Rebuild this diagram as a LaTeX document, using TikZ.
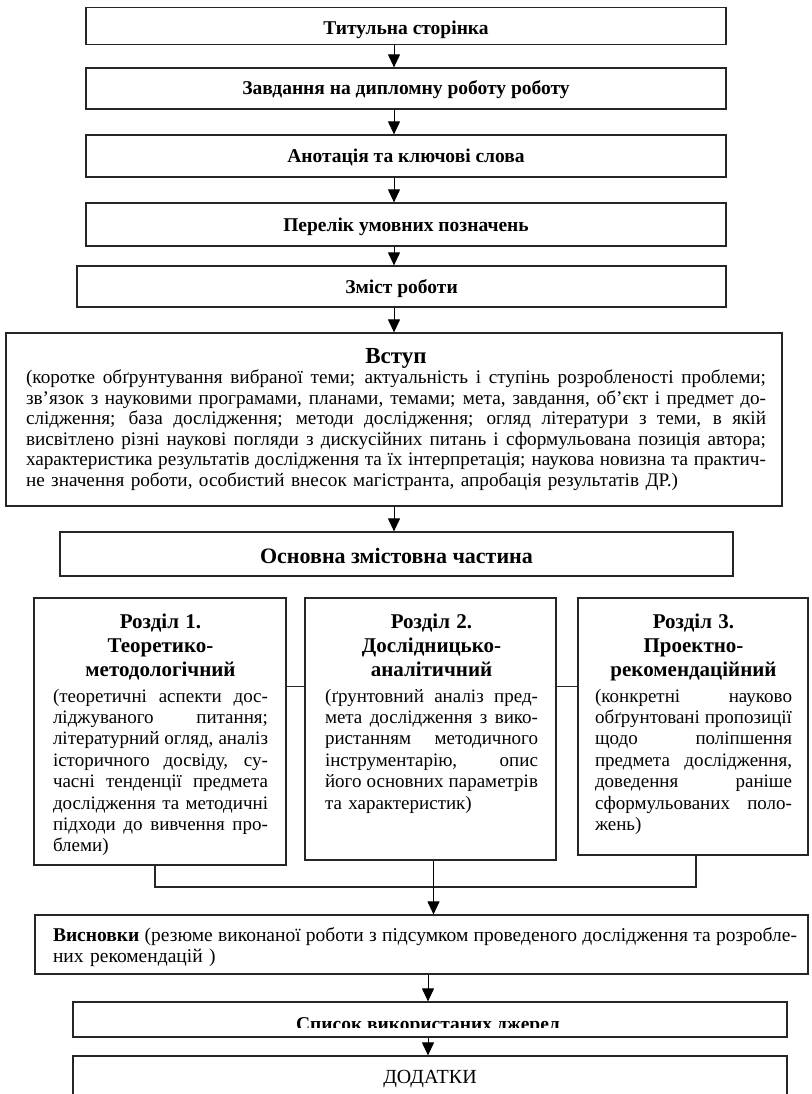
\documentclass[tikz,border=0pt]{standalone}
\usepackage{fontspec}
\setmainfont{Liberation Serif}
\usepackage{tikz}
\usetikzlibrary{positioning,calc,arrows.meta}
\setlength{\parindent}{0pt}
\setlength{\parskip}{0pt}

\newcommand{\jl}[1]{\makebox[\hsize][s]{\spaceskip=0pt\xspaceskip=0pt\relax #1}}
\newcommand{\lastl}[1]{\makebox[\hsize][l]{#1}}

\tikzset{
    box/.style={draw=black!85, line width=1.2pt, inner sep=0pt},
    arr/.style={draw=black, line width=1pt, -{Triangle[width=12pt,length=13pt]}},
    conn/.style={draw=black!85, line width=1.2pt},
    head/.style={font=\bfseries\fontsize{19.5}{22}\selectfont, text height=13pt, text depth=0pt},
    body/.style={inner sep=0pt, align=center, font=\fontsize{19}{21.4}\selectfont},
}

\begin{document}
\begin{tikzpicture}[x=1pt,y=-1pt]
    \useasboundingbox (0,0) rectangle (811,1094);
    \coordinate (ax) at (394,0);
    \coordinate (ax2) at (428,0);
    \coordinate (bus) at (0,887);

    % Front matter
    \node[box, head, text height=17pt, minimum width=640pt, minimum height=37pt] (tit) at (406,26) {Титульна сторінка};
    \node[box, head, minimum width=640pt, minimum height=41pt] (zav) at (406,88.5) {Завдання на дипломну роботу роботу};
    \node[box, head, minimum width=640pt, minimum height=42pt] (anot) at (406,156) {Анотація та ключові слова};
    \node[box, head, minimum width=640pt, minimum height=43pt] (per) at (406,224.5) {Перелік умовних позначень};
    \node[box, head, minimum width=649pt, minimum height=41pt] (zmist) at (401.5,286.5) {Зміст роботи};

    % Introduction
    \node[box, minimum width=776pt, minimum height=173pt] (vstup) at (394,419.5) {};
    \node[body, anchor=north, text width=740pt, font=\fontsize{19.2}{20.5}\selectfont] (vstupt) at (396,348) {%
        {\bfseries\fontsize{23}{23}\selectfont Вступ\par}
        \jl{(коротке обґрунтування вибраної теми; актуальність і ступінь розробленості проблеми;}\\
        \jl{зв'язок з науковими програмами, планами, темами; мета, завдання, об’єкт і предмет до-}\\
        \jl{слідження; база дослідження; методи дослідження; огляд літератури з теми, в якій}\\
        \jl{висвітлено різні наукові погляди з дискусійних питань і сформульована позиція автора;}\\
        \jl{характеристика результатів дослідження та їх інтерпретація; наукова новизна та практич-}\\
        \lastl{не значення роботи, особистий внесок магістранта, апробація результатів ДР.)}};

    \node[box, font=\bfseries\fontsize{22}{24}\selectfont, text height=18pt, text depth=0pt, minimum width=673pt, minimum height=44pt] (osn) at (396.5,554) {Основна змістовна частина};

    % Sections
    \node[box, minimum width=252pt, minimum height=267pt] (s1) at (160,731.5) {};
    \node[box, minimum width=251pt, minimum height=262pt] (s2) at (430.5,729) {};
    \node[box, minimum width=230pt, minimum height=257pt] (s3) at (693,726.5) {};

    \node[body, anchor=north, text width=215pt] (s1t) at (160.5,614) {%
        {\bfseries\fontsize{21}{24}\selectfont Розділ 1.\\ Теоретико-\\ методологічний\par}\vspace{4pt}
        \jl{(теоретичні аспекти дос-}\\
        \jl{ліджуваного питання;}\\
        \jl{літературний огляд, аналіз}\\
        \jl{історичного досвіду, су-}\\
        \jl{часні тенденції предмета}\\
        \jl{дослідження та методичні}\\
        \jl{підходи до вивчення про-}\\
        \lastl{блеми)}};
    \node[body, anchor=north, text width=213pt] (s2t) at (431.5,614) {%
        {\bfseries\fontsize{21}{24}\selectfont Розділ 2.\\ Дослідницько-\\ аналітичний\par}\vspace{4pt}
        \jl{(ґрунтовний аналіз пред-}\\
        \jl{мета дослідження з вико-}\\
        \jl{ристанням методичного}\\
        \jl{інструментарію, опис}\\
        \jl{його основних параметрів}\\
        \lastl{та характеристик)}};
    \node[body, anchor=north, text width=197pt] (s3t) at (693.5,614) {%
        {\bfseries\fontsize{21}{24}\selectfont Розділ 3.\\ Проектно-\\ рекомендаційний\par}\vspace{4pt}
        \jl{(конкретні науково}\\
        \jl{обґрунтовані пропозиції}\\
        \jl{щодо поліпшення}\\
        \jl{предмета дослідження,}\\
        \jl{доведення раніше}\\
        \jl{сформульованих поло-}\\
        \lastl{жень)}};

    % Conclusions and end matter
    \node[box, minimum width=773pt, minimum height=59pt] (visn) at (421.5,944.5) {};
    \node[body, anchor=north, align=left, text width=744pt, font=\fontsize{19.5}{21}\selectfont] (visnt) at (425,927.5) {%
        \jl{\textbf{Висновки} (резюме виконаної роботи з підсумком проведеного дослідження та розробле-}\\
        \lastl{них рекомендацій )}};

    \node[box, minimum width=714pt, minimum height=35pt] (spys) at (430,1019.5) {};
    \begin{scope}
        \clip (spys.north west) rectangle ([yshift=10pt]spys.south east);
        \node[head, inner sep=0pt, anchor=base] (spyst) at (428,1030) {Список використаних джерел};
    \end{scope}
    \node[box, font=\fontsize{20}{22}\selectfont, text height=13pt, text depth=0pt, minimum width=714pt, minimum height=42pt] (dod) at (430,1077) {ДОДАТКИ};

    % Arrows
    \draw[arr] (tit.south -| ax) -- (zav.north -| ax);
    \draw[arr] (zav.south -| ax) -- (anot.north -| ax);
    \draw[arr] (anot.south -| ax) -- (per.north -| ax);
    \draw[arr] (per.south -| ax) -- (zmist.north -| ax);
    \draw[arr] (zmist.south -| ax) -- (vstup.north -| ax);
    \draw[arr] (vstup.south -| ax) -- (osn.north -| ax);

    \draw[conn] ([yshift=-89pt]s1.north east) -- ([yshift=-89pt]s2.north west);
    \draw[conn] ([yshift=-89pt]s2.north east) -- ([yshift=-89pt]s3.north west);

    \coordinate (s1d) at ([xshift=-5pt]s1.south);
    \coordinate (s2d) at ([xshift=3pt]s2.south);
    \coordinate (s3d) at ([xshift=3pt]s3.south);
    \draw[conn] (s1d) |- (bus -| s3d) -- (s3d);
    \draw[arr] (s2d) -- (visn.north -| s2d);

    \draw[arr] (visn.south -| ax2) -- (spys.north -| ax2);
    \draw[arr] (spys.south -| ax2) -- (dod.north -| ax2);
\end{tikzpicture}
\end{document}
